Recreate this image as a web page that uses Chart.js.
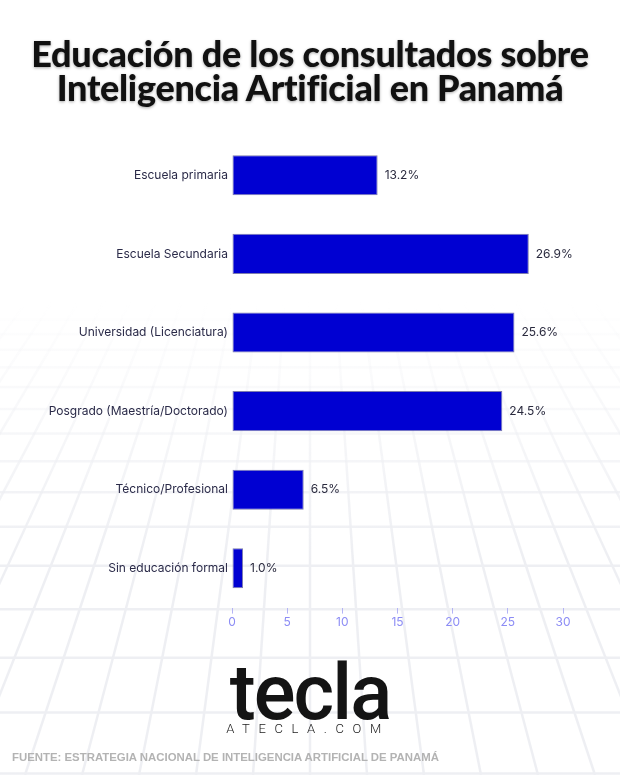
<!DOCTYPE html>
<html>
<head>
<meta charset="utf-8">
<script src="https://cdn.jsdelivr.net/npm/chart.js@4"></script>
<style>
  html, body { margin:0; padding:0; background:#fff; }
  #page { position:relative; width:620px; height:775px; overflow:hidden; background:#fff; }
  #bg { position:absolute; left:0; top:0; }
  #titulo { position:absolute; left:0; top:36px; width:620px; text-align:center;
    font-family:"Lato"; font-weight:900; font-size:36px; line-height:34px; color:#111;
    text-shadow:0 1px 3px rgba(0,0,0,0.35); letter-spacing:-0.3px; }
  #caja { position:absolute; left:0; top:120px; width:620px; height:520px; }
  #logo { position:absolute; left:0; top:653px; width:620px; text-align:center;
    font-family:"Roboto"; font-weight:500; font-size:78px; line-height:80px; color:#141414; letter-spacing:-2px; }
  #web { position:absolute; left:0; top:721px; width:620px; text-align:center;
    font-family:"Roboto"; font-weight:300; font-size:13px; color:#222; letter-spacing:8.6px; padding-right:4px; box-sizing:border-box; }
  #fuente { position:absolute; left:12px; top:751px; font-family:"Liberation Sans"; font-weight:bold;
    font-size:11.4px; color:#b3b3b3; }
</style>
</head>
<body>
<div id="page">
  <canvas id="bg" width="620" height="775"></canvas>
  <div id="titulo">Educación de los consultados sobre<br>Inteligencia Artificial en Panamá</div>
  <div id="caja"><canvas id="grafica"></canvas></div>
  <div id="logo">tecla</div>
  <div id="web">ATECLA.COM</div>
  <div id="fuente">FUENTE: ESTRATEGIA NACIONAL DE INTELIGENCIA ARTIFICIAL DE PANAMÁ</div>
</div>
<script>
const categorias = ["Escuela primaria","Escuela Secundaria","Universidad (Licenciatura)","Posgrado (Maestría/Doctorado)","Técnico/Profesional","Sin educación formal"];
const porcentajes = [13.2, 26.9, 25.6, 24.5, 6.5, 1.0];
const etiquetas = ["13.2%","26.9%","25.6%","24.5%","6.5%","1.0%"];

// fondo: piso en perspectiva
const bg = document.getElementById('bg').getContext('2d');
bg.lineWidth = 2.5;
const grad = bg.createLinearGradient(0, 300, 0, 560);
grad.addColorStop(0, 'rgba(238,239,243,0)');
grad.addColorStop(1, 'rgba(238,239,243,1)');
bg.strokeStyle = grad;
let y = 320, paso = 14;
while (y < 790) {
  bg.beginPath(); bg.moveTo(0, y); bg.lineTo(620, y); bg.stroke();
  y += paso; paso *= 1.12;
}
for (let i = -14; i <= 14; i++) {
  const xb = 310 + i * 57;
  bg.beginPath(); bg.moveTo(310 + (xb - 310) * 0.45, 300); bg.lineTo(xb, 775); bg.stroke();
}

const etiquetasBarras = {
  id: 'etiquetasBarras',
  afterDatasetsDraw(chart) {
    const ctx = chart.ctx;
    ctx.save();
    ctx.font = '12px Inter';
    ctx.fillStyle = '#2a2a3e';
    ctx.textBaseline = 'middle';
    chart.getDatasetMeta(0).data.forEach((bar, i) => {
      ctx.fillText(etiquetas[i], bar.x + 7, bar.y);
    });
    ctx.restore();
  }
};

const grafica = document.getElementById('grafica');
var chart = new Chart(grafica, {
  type: "bar",
  data: {
    labels: categorias,
    datasets: [{
      data: porcentajes,
      backgroundColor: "#0000d2",
      borderColor: "rgba(70,70,140,0.7)",
      borderWidth: 1,
      borderSkipped: false,
      barPercentage: 0.51,
      categoryPercentage: 1
    }]
  },
  options: {
    indexAxis: 'y',
    responsive: true,
    maintainAspectRatio: false,
    animation: false,
    layout: { padding: { top: 16, right: 57, bottom: 8, left: 0 } },
    plugins: { legend: { display: false }, tooltip: { enabled: false } },
    scales: {
      x: {
        min: 0, max: 30,
        ticks: { stepSize: 5, color: '#8c8cf5', font: { family: 'Inter', size: 12 }, padding: 2 },
        grid: { drawOnChartArea: false, drawTicks: true, tickLength: 6, color: '#b4b4f5' },
        border: { display: false }
      },
      y: {
        afterFit(scale) { scale.width = 232; },
        ticks: { color: '#2a2a48', font: { family: 'Inter', size: 12 }, padding: 4 },
        grid: { display: false, drawTicks: false },
        border: { display: false }
      }
    }
  },
  plugins: [etiquetasBarras]
});
</script>
</body>
</html>
